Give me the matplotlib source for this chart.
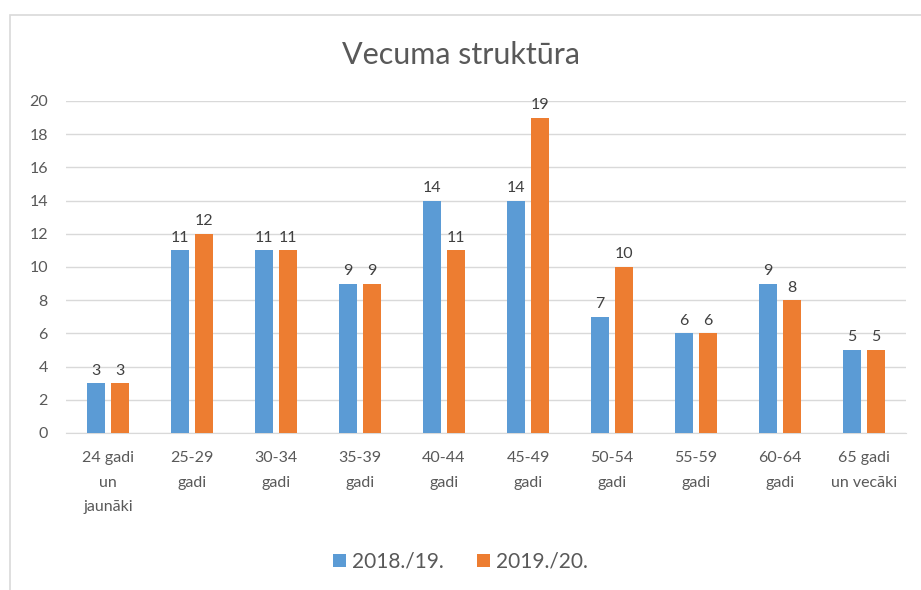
import matplotlib.pyplot as plt
import numpy as np
from matplotlib.patches import Rectangle

plt.rcParams['font.family'] = ['Lato', 'DejaVu Sans']

categories = ['24 gadi\nun\njaunāki', '25-29\ngadi', '30-34\ngadi', '35-39\ngadi',
              '40-44\ngadi', '45-49\ngadi', '50-54\ngadi', '55-59\ngadi',
              '60-64\ngadi', '65 gadi\nun vecāki']
s2018 = [3, 11, 11, 9, 14, 14, 7, 6, 9, 5]
s2019 = [3, 12, 11, 9, 11, 19, 10, 6, 8, 5]
series_names = ['2018./19.', '2019./20.']

blue = '#5B9BD5'
orange = '#ED7D31'
txt = '#595959'

fig = plt.figure(figsize=(9.21, 5.9), dpi=100)
# chart frame (cut off at right and bottom like the screenshot)
fig.patches.append(Rectangle((10 / 921, -0.1), 1.2, 1.1 - 15 / 590,
                             transform=fig.transFigure, fill=False,
                             edgecolor='#d9d9d9', linewidth=1.2))

ax = fig.add_axes([66 / 921, 1 - 433 / 590, 840 / 921, 332 / 590])

x = np.arange(len(categories))
w = 0.22
b1 = ax.bar(x - w / 2 - 0.03, s2018, w, color=blue, label=series_names[0], zorder=3)
b2 = ax.bar(x + w / 2 + 0.03, s2019, w, color=orange, label=series_names[1], zorder=3)

for bars in (b1, b2):
    for r in bars:
        ax.annotate(str(int(r.get_height())), (r.get_x() + r.get_width() / 2, r.get_height()),
                    xytext=(0, 4), textcoords='offset points', ha='center', va='bottom',
                    fontsize=11.5, color='#404040')

ax.set_xlim(-0.5, len(categories) - 0.5)
ax.set_ylim(0, 20)
ax.set_yticks(range(0, 21, 2))
ax.grid(axis='y', color='#d9d9d9', linewidth=1, zorder=0)
for s in ['top', 'right', 'left']:
    ax.spines[s].set_visible(False)
ax.spines['bottom'].set_color('#d9d9d9')
ax.tick_params(axis='both', length=0, labelsize=11.5, labelcolor=txt)
ax.tick_params(axis='y', pad=13)
ax.tick_params(axis='x', pad=13)
ax.set_xticks(x)
ax.set_xticklabels(categories, linespacing=1.95, fontsize=11.5)

fig.text(0.5, 1 - 55 / 590, 'Vecuma struktūra', ha='center', va='center',
         fontsize=22, color=txt)

fig.legend(handles=[b1, b2], labels=series_names, loc='center',
           bbox_to_anchor=(0.5, 1 - 562 / 590), ncol=2, frameon=False,
           fontsize=15, handlelength=0.6, handleheight=0.6, handletextpad=0.3,
           columnspacing=1.6, labelcolor=txt)

fig.savefig('out.png', dpi=100)
